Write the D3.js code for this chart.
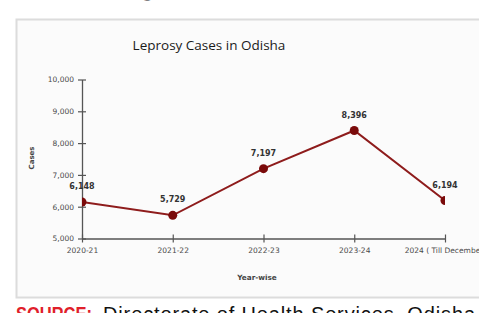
<!DOCTYPE html>
<html>
<head>
<meta charset="utf-8">
<script src="https://cdn.jsdelivr.net/npm/d3@7"></script>
<style>
  body { margin: 0; background: #fff; }
  svg { display: block; }
</style>
</head>
<body>
<svg id="chart" width="479" height="313"></svg>
<script>
const years = ["2020-21", "2021-22", "2022-23", "2023-24", "2024 ( Till December)"];
const cases = [6148, 5729, 7197, 8396, 6194];
const yTicks = [5000, 6000, 7000, 8000, 9000, 10000];

const svg = d3.select("#chart");
const fmt = d3.format(",");

// newspaper headline bits cut at the top
svg.append("text")
  .attr("x", 0).attr("y", -9)
  .attr("font-family", "DejaVu Serif").attr("font-weight", "bold")
  .attr("font-size", 44).attr("fill", "#111")
  .text("p");
svg.append("text")
  .attr("x", 140).attr("y", -9)
  .attr("font-family", "DejaVu Serif").attr("font-weight", "bold")
  .attr("font-size", 44).attr("fill", "#111")
  .text("y");

// chart box
svg.append("rect")
  .attr("x", 16.5).attr("y", 19.5)
  .attr("width", 480).attr("height", 278)
  .attr("fill", "#fbfbfb")
  .attr("stroke", "#dcdcdc").attr("stroke-width", 2);

svg.append("text")
  .attr("x", 209).attr("y", 50)
  .attr("text-anchor", "middle")
  .attr("font-family", "Open Sans").attr("font-size", 13.5)
  .attr("fill", "#1a1a1a")
  .text("Leprosy Cases in Odisha");

const pLeft = 82, pRight = 445, pTop = 79.5, pBottom = 238.5;

const x = d3.scalePoint().domain(years).range([pLeft, pRight]);
const y = d3.scaleLinear().domain([5000, 10000]).range([pBottom, pTop]);

const yAxis = svg.append("g")
  .attr("transform", `translate(${pLeft},0)`)
  .call(d3.axisLeft(y).tickValues(yTicks).tickFormat(fmt).tickSizeInner(4).tickSizeOuter(0));
yAxis.selectAll(".tick line").attr("x2", 4).attr("x1", -4);
yAxis.selectAll(".tick text").attr("x", -8);

const xAxis = svg.append("g")
  .attr("transform", `translate(0,${pBottom})`)
  .call(d3.axisBottom(x).tickSizeInner(4).tickSizeOuter(0));
xAxis.selectAll(".tick line").attr("y1", -4).attr("y2", 4);
xAxis.selectAll(".tick text").attr("y", 9);

svg.selectAll(".domain").attr("stroke", "#555").attr("stroke-width", 1.3);
svg.selectAll(".tick line").attr("stroke", "#555").attr("stroke-width", 1.2);
svg.selectAll(".tick text")
  .attr("font-family", "DejaVu Sans").attr("font-size", 7.5).attr("fill", "#4a4a4a");

svg.append("text")
  .attr("transform", "translate(34,158) rotate(-90)")
  .attr("text-anchor", "middle")
  .attr("font-family", "DejaVu Sans").attr("font-weight", "bold")
  .attr("font-size", 7).attr("fill", "#444")
  .text("Cases");

svg.append("text")
  .attr("x", 257).attr("y", 280)
  .attr("text-anchor", "middle")
  .attr("font-family", "DejaVu Sans").attr("font-weight", "bold")
  .attr("font-size", 7.3).attr("fill", "#444")
  .text("Year-wise");

// line + markers, clipped to plot
svg.append("clipPath").attr("id", "plot")
  .append("rect").attr("x", pLeft).attr("y", pTop - 10)
  .attr("width", pRight - pLeft).attr("height", pBottom - pTop + 10);

const plot = svg.append("g").attr("clip-path", "url(#plot)");
const pts = years.map((yr, i) => ({ yr, v: cases[i] }));

plot.append("path")
  .datum(pts)
  .attr("fill", "none")
  .attr("stroke", "#8e1c1c")
  .attr("stroke-width", 2)
  .attr("d", d3.line().x(d => x(d.yr)).y(d => y(d.v)));

plot.selectAll("circle")
  .data(pts)
  .join("circle")
  .attr("cx", d => x(d.yr))
  .attr("cy", d => y(d.v))
  .attr("r", 4.5)
  .attr("fill", "#7a0a0a");

svg.selectAll(".lbl")
  .data(pts)
  .join("text")
  .attr("class", "lbl")
  .attr("x", d => x(d.yr))
  .attr("y", d => y(d.v) - 13)
  .attr("text-anchor", "middle")
  .attr("font-family", "DejaVu Sans").attr("font-weight", "bold")
  .attr("font-size", 8).attr("fill", "#333")
  .text(d => fmt(d.v));

// source line, cut at the bottom
svg.append("text")
  .attr("x", 16).attr("y", 321)
  .attr("font-family", "Liberation Sans").attr("font-weight", "bold")
  .attr("font-size", 20).attr("fill", "#e0202a")
  .attr("textLength", 76).attr("lengthAdjust", "spacingAndGlyphs")
  .text("SOURCE:");
svg.append("text")
  .attr("x", 103).attr("y", 321)
  .attr("font-family", "Liberation Sans")
  .attr("font-size", 20).attr("fill", "#111")
  .attr("textLength", 372).attr("lengthAdjust", "spacing")
  .text("Directorate of Health Services, Odisha");
</script>
</body>
</html>
